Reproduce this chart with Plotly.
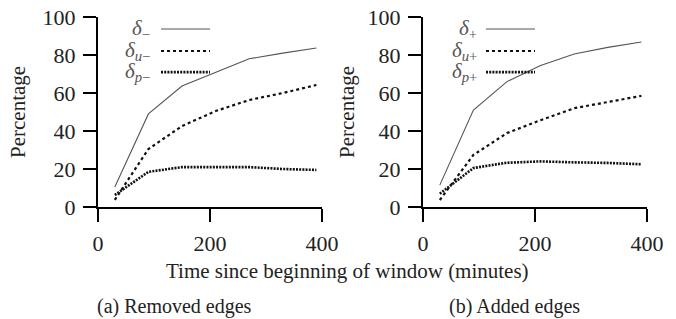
import plotly.graph_objects as go

# ---- data ----
time_min = [30, 90, 150, 210, 270, 330, 390]

removed_all = [10.5, 49, 63.7, 71, 78, 81, 83.7]
removed_u = [3.7, 30.5, 42.6, 50.5, 56.3, 60, 64.2]
removed_p = [6.3, 18.5, 21, 21, 21, 20, 19.5]

added_all = [11.5, 51, 66, 74.5, 80.5, 84, 86.8]
added_u = [3.7, 27.4, 38.9, 45.7, 52, 55.3, 58.5]
added_p = [7, 20.5, 23.3, 24, 23.5, 23.2, 22.5]

x_ticks = [0, 200, 400]
y_ticks = [0, 20, 40, 60, 80, 100]

labels_removed = ["<i>δ</i><sub>−</sub>", "<i>δ<sub>u</sub></i><sub>−</sub>", "<i>δ<sub>p</sub></i><sub>−</sub>"]
labels_added = ["<i>δ</i><sub>+</sub>", "<i>δ<sub>u</sub></i><sub>+</sub>", "<i>δ<sub>p</sub></i><sub>+</sub>"]

panel_captions = ["(a) Removed edges", "(b) Added edges"]
x_title = "Time since beginning of window (minutes)"
y_title = "Percentage"

# ---- styles ----
W, H = 676, 319
FONT = "Liberation Serif"
styles = [
    dict(color="#555555", width=1.1, dash="solid"),
    dict(color="#111111", width=2.2, dash="3px,3px"),
    dict(color="#111111", width=2.6, dash="2px,1.2px"),
]

def px2x(px):
    return px / W

def px2y(py):
    return 1 - py / H

fig = go.Figure()

panels = [
    dict(xa="x", ya="y", xd=[px2x(98), px2x(322)],
         series=[removed_all, removed_u, removed_p], labels=labels_removed,
         text_x=95, cap_x=px2x(174), ylab_x=px2x(18)),
    dict(xa="x2", ya="y2", xd=[px2x(423), px2x(647)],
         series=[added_all, added_u, added_p], labels=labels_added,
         text_x=98, cap_x=px2x(514), ylab_x=px2x(347)),
]

yd = [px2y(207), px2y(17)]
legend_y = [93.7, 82.1, 71]

for i, p in enumerate(panels):
    for s, st in zip(p["series"], styles):
        fig.add_trace(go.Scatter(x=time_min, y=s, mode="lines", xaxis=p["xa"], yaxis=p["ya"],
                                 line=st, showlegend=False, hoverinfo="skip"))
    sfx = "" if i == 0 else "2"
    axis_common = dict(showline=True, linecolor="black", linewidth=2, ticks="outside",
                       ticklen=13, tickwidth=2, tickcolor="black", showgrid=False,
                       zeroline=False, tickfont=dict(family=FONT, size=22, color="#222"),
                       automargin=False, fixedrange=True, ticklabelstandoff=3)
    fig.update_layout(**{
        "xaxis" + sfx: dict(domain=p["xd"], range=[0, 400], tickvals=x_ticks,
                            anchor="y" + sfx, **axis_common),
        "yaxis" + sfx: dict(domain=yd, range=[0, 100], tickvals=y_ticks,
                            anchor="x" + sfx, **axis_common),
    })
    # legend (text left of line sample)
    for lab, ly, st in zip(p["labels"], legend_y, styles):
        fig.add_annotation(x=p["text_x"], y=ly, xref=p["xa"], yref=p["ya"], text=lab,
                           showarrow=False, xanchor="right", yanchor="middle", borderpad=0,
                           font=dict(family=FONT, size=21, color="#555"))
        fig.add_shape(type="line", x0=112.5, x1=200, y0=ly, y1=ly, xref=p["xa"], yref=p["ya"],
                      line=dict(color=st["color"], width=st["width"], dash=st["dash"]))
    fig.add_annotation(x=p["ylab_x"], y=px2y(112), xref="paper", yref="paper", text=y_title,
                       textangle=-90, showarrow=False, xanchor="center", yanchor="middle",
                       font=dict(family=FONT, size=21, color="#222"))
    fig.add_annotation(x=p["cap_x"], y=0, xref="paper", yref="paper",
                       text=panel_captions[i], showarrow=False, xanchor="center", yanchor="bottom",
                       borderpad=0, font=dict(family=FONT, size=20, color="#222"))

fig.add_annotation(x=px2x(347), y=px2y(271), xref="paper", yref="paper", text=x_title,
                   showarrow=False, xanchor="center", yanchor="middle",
                   font=dict(family=FONT, size=21, color="#222"))

fig.update_layout(width=W, height=H, margin=dict(l=0, r=0, t=0, b=0),
                  paper_bgcolor="white", plot_bgcolor="white")

fig.write_html("out.html", config={"displayModeBar": False},
               post_script="document.body.style.margin='0';document.body.style.overflow='hidden';")
